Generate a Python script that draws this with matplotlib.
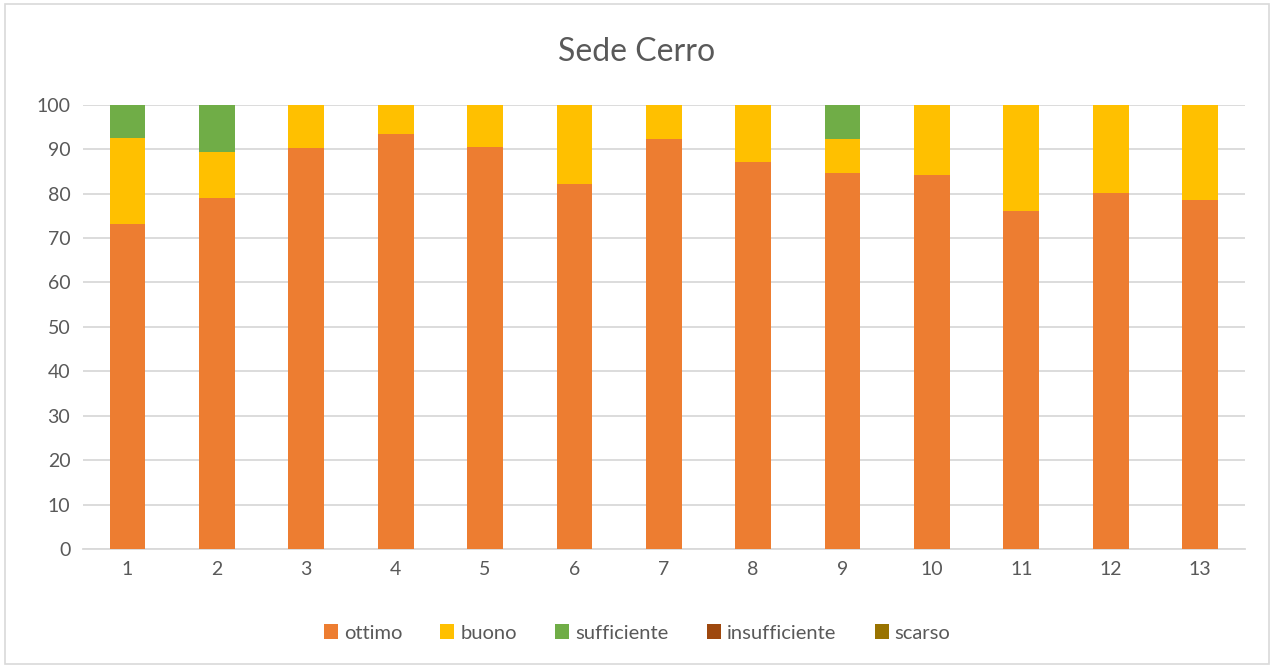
import matplotlib

matplotlib.use("Agg")

import matplotlib.pyplot as plt
import numpy as np
from matplotlib.patches import Rectangle

categories = ["1", "2", "3", "4", "5", "6", "7", "8", "9", "10", "11", "12", "13"]
ottimo = [73.1, 78.9, 90.2, 93.4, 90.5, 82.1, 92.2, 87.1, 84.6, 84.1, 76.0, 80.1, 78.6]
buono = [19.4, 10.4, 9.8, 6.6, 9.5, 17.9, 7.8, 12.9, 7.6, 15.9, 24.0, 19.9, 21.4]
sufficiente = [7.5, 10.7, 0, 0, 0, 0, 0, 0, 7.8, 0, 0, 0, 0]
insufficiente = [0] * 13
scarso = [0] * 13

series = [
    ("ottimo", ottimo, "#ED7D31"),
    ("buono", buono, "#FFC000"),
    ("sufficiente", sufficiente, "#70AD47"),
    ("insufficiente", insufficiente, "#9E480E"),
    ("scarso", scarso, "#997300"),
]

plt.rcParams["font.family"] = ["Lato", "DejaVu Sans"]
text_color = "#595959"
grid_color = "#D9D9D9"

fig = plt.figure(figsize=(12.74, 6.67), dpi=100)
fig.patches.append(Rectangle((0.004, 0.004), 0.992, 0.99, transform=fig.transFigure,
                             fill=False, edgecolor=grid_color, linewidth=1.2))
ax = fig.add_axes([0.065, 0.177, 0.912, 0.666])

x = np.arange(len(categories))
bottom = np.zeros(len(categories))
for name, values, color in series:
    vals = np.array(values, dtype=float)
    ax.bar(x, vals, 0.4, bottom=bottom, color=color, label=name, zorder=3)
    bottom += vals

ax.set_xlim(-0.5, len(categories) - 0.5)
ax.set_ylim(0, 100)
ax.set_yticks(range(0, 101, 10))
ax.set_xticks(x)
ax.set_xticklabels(categories)
ax.yaxis.grid(True, color=grid_color, linewidth=1.3, zorder=0)
ax.tick_params(axis="both", length=0, labelsize=14, colors=text_color, pad=9)
for side in ["top", "right", "left"]:
    ax.spines[side].set_visible(False)
ax.spines["bottom"].set_color(grid_color)
ax.spines["bottom"].set_linewidth(1.3)

fig.text(0.5, 0.922, "Sede Cerro", ha="center", va="center", fontsize=23, color=text_color)

handles, labels = ax.get_legend_handles_labels()
fig.legend(handles, labels, loc="center", bbox_to_anchor=(0.5, 0.051), ncol=5, frameon=False,
           fontsize=14.5, labelcolor=text_color, handlelength=0.7, handleheight=0.7,
           handletextpad=0.3, columnspacing=1.9)

fig.savefig("out.png", dpi=100)
